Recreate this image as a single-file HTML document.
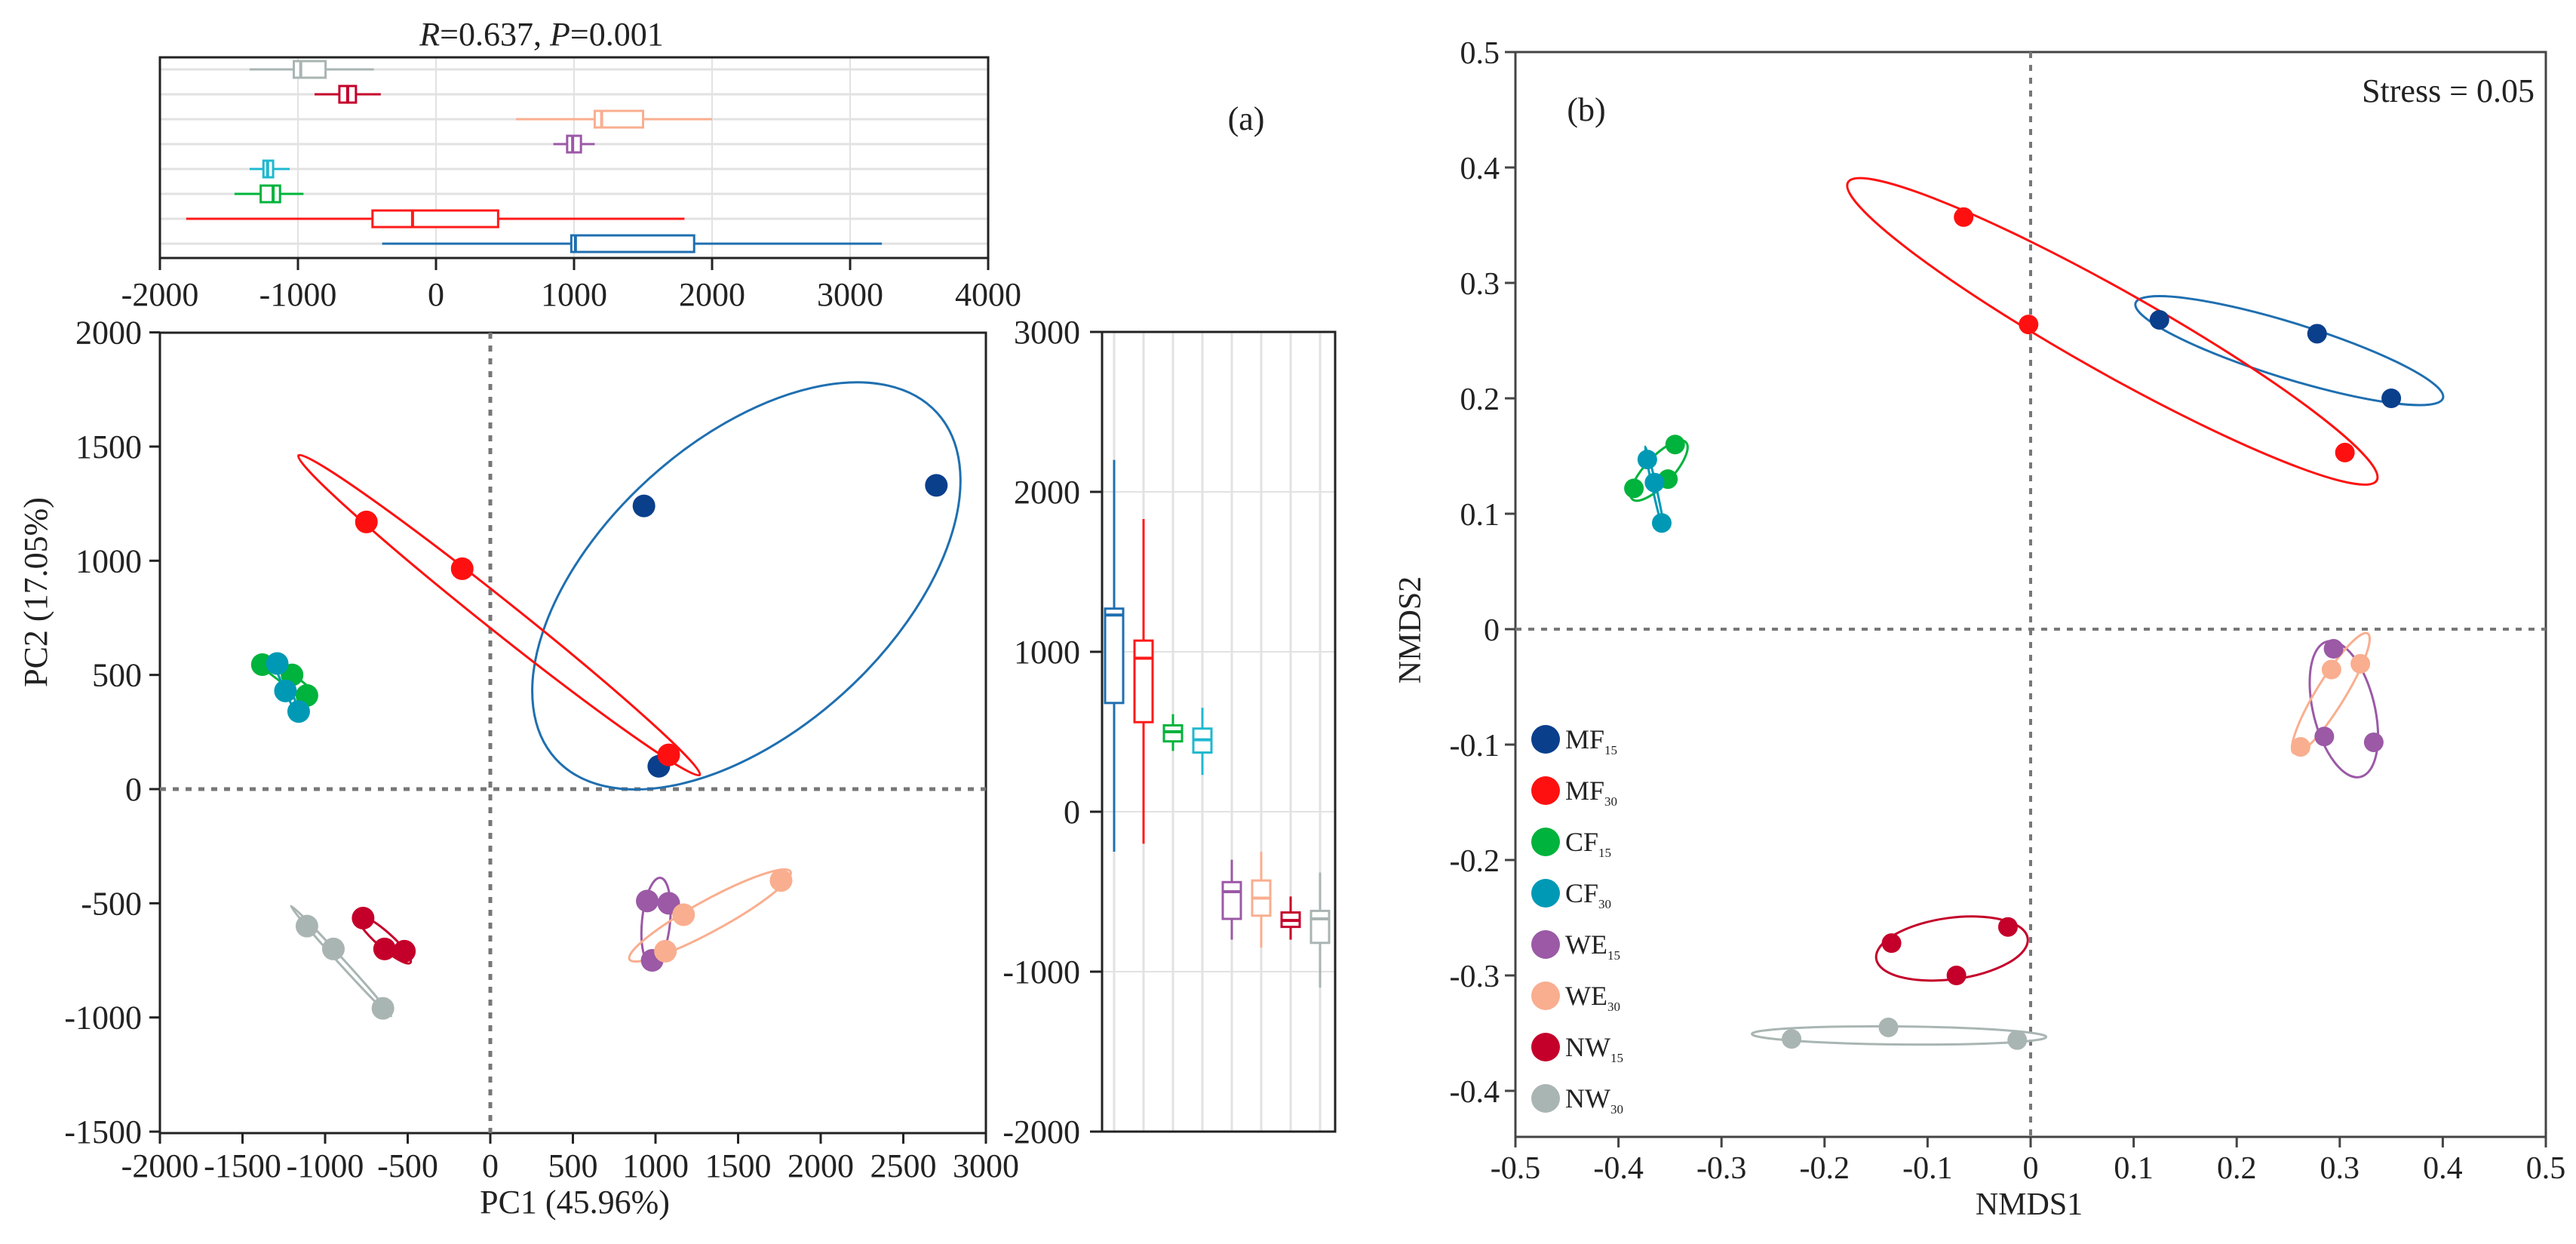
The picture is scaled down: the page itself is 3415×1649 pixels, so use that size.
<!DOCTYPE html>
<html><head><meta charset="utf-8"><style>
html,body{margin:0;padding:0;background:#fff}
svg{display:block;font-family:"Liberation Serif",serif}
</style></head><body>
<svg id="fig" width="3415" height="1649" viewBox="0 0 3415 1649" xmlns="http://www.w3.org/2000/svg"></svg>
<script>
const groups=['MF15','MF30','CF15','CF30','WE15','WE30','NW15','NW30'];
const pointColors=['#0a3f8c','#ff1010','#00b33c','#0099b5','#9b59a6','#f9ae8f','#c4002a','#a9b5b3'];
const lineColors=['#1f6fb0','#ff1010','#00b33c','#0099b5','#9b59a6','#f9ae8f','#c4002a','#a9b5b3'];
const boxColors=['#1f6fb0','#ff1a1a','#00b33c','#1fb8d0','#9b59a6','#f9ae8f','#c4002a','#a9b5b3'];
// PCA scores
const pcaX=[[930,2700,1020],[-750,-170,1080],[-1380,-1200,-1110],[-1290,-1240,-1160],[950,1080,980],[1760,1170,1060],[-770,-640,-520],[-1110,-950,-650]];
const pcaY=[[1240,1330,100],[1170,965,150],[545,500,410],[550,430,340],[-490,-500,-750],[-400,-550,-710],[-565,-700,-710],[-600,-700,-960]];
// NMDS scores
const nmdsX=[[0.125,0.278,0.35],[-0.065,-0.002,0.305],[-0.385,-0.345,-0.352],[-0.372,-0.365,-0.358],[0.294,0.285,0.333],[0.262,0.292,0.32],[-0.135,-0.072,-0.022],[-0.232,-0.138,-0.013]];
const nmdsY=[[0.268,0.256,0.2],[0.357,0.264,0.153],[0.122,0.16,0.13],[0.147,0.127,0.092],[-0.017,-0.093,-0.098],[-0.102,-0.035,-0.03],[-0.272,-0.3,-0.258],[-0.355,-0.345,-0.356]];
// PC1 boxplot stats
const topMin=[-390,-1810,-1460,-1350,850,580,-880,-1350];
const topQ1=[980,-460,-1270,-1250,950,1150,-700,-1030];
const topMed=[1010,-170,-1180,-1220,990,1200,-640,-980];
const topQ3=[1870,450,-1130,-1180,1050,1500,-580,-800];
const topMax=[3230,1800,-960,-1060,1150,2000,-400,-450];
// PC2 boxplot stats
const rMin=[-250,-200,380,230,-800,-850,-800,-1100];
const rQ1=[680,560,440,370,-670,-650,-720,-820];
const rMed=[1230,960,500,450,-500,-540,-680,-670];
const rQ3=[1270,1070,540,520,-440,-430,-630,-620];
const rMax=[2200,1830,610,650,-300,-250,-530,-380];
const pcaXTicks=[-2000,-1500,-1000,-500,0,500,1000,1500,2000,2500,3000];
const pcaYTicks=[-1500,-1000,-500,0,500,1000,1500,2000];
const topTicks=[-2000,-1000,0,1000,2000,3000,4000];
const rTicks=[-2000,-1000,0,1000,2000,3000];
const nTicks=[-0.5,-0.4,-0.3,-0.2,-0.1,0,0.1,0.2,0.3,0.4,0.5];
const nTickLabels=['-0.5','-0.4','-0.3','-0.2','-0.1','0','0.1','0.2','0.3','0.4','0.5'];

const svg=document.getElementById('fig');
const NS='http://www.w3.org/2000/svg';
function mk(tag,at,parent){const e=document.createElementNS(NS,tag);for(const k in at)e.setAttribute(k,at[k]);(parent||svg).appendChild(e);return e;}
function txt(s,x,y,size,anchor,parent){const t=mk('text',{x:x,y:y,'font-size':size,'text-anchor':anchor||'middle',fill:'#222'},parent);t.textContent=s;return t;}

// scales
const ax=v=>650+v*0.219, ay=v=>1046-v*0.3027;
const tx=v=>578+v*0.183;
const ry=v=>652-(v-2000)*0.212;
const nx=v=>2009+(v+0.5)*1366, ny=v=>834-v*1530;

function ellipse(xs,ys,k,color,g,name){
  const n=xs.length;let mx=0,my=0;for(let i=0;i<n;i++){mx+=xs[i];my+=ys[i];}mx/=n;my/=n;
  let a=0,b=0,c=0;for(let i=0;i<n;i++){const dx=xs[i]-mx,dy=ys[i]-my;a+=dx*dx;b+=dx*dy;c+=dy*dy;}
  a/=(n-1);b/=(n-1);c/=(n-1);
  const m=(a+c)/2,d=Math.sqrt(((a-c)/2)**2+b*b);
  const l1=m+d,l2=Math.max(m-d,4);
  const ang=0.5*Math.atan2(2*b,a-c)*180/Math.PI;
  const e=mk('ellipse',{cx:mx,cy:my,rx:k*Math.sqrt(l1),ry:k*Math.sqrt(l2),transform:`rotate(${ang} ${mx} ${my})`,fill:'none',stroke:color,'stroke-width':3},g);
  
  
}

// ================= Panel a: main scatter =================
const gA=mk('g',{});


let r=mk('rect',{x:212,y:441,width:1095,height:1061,fill:'none',stroke:'#222','stroke-width':3},gA);


let l=mk('line',{x1:ax(0),y1:441,x2:ax(0),y2:1502,stroke:'#777','stroke-width':5,'stroke-dasharray':'8 9'},gA);


l=mk('line',{x1:212,y1:ay(0),x2:1307,y2:ay(0),stroke:'#777','stroke-width':5,'stroke-dasharray':'8 9'},gA);


pcaXTicks.forEach(v=>{mk('line',{x1:ax(v),y1:1502,x2:ax(v),y2:1516,stroke:'#222','stroke-width':3},gA);
  const t=txt(String(v),ax(v),1560,44,'middle',gA);
  
  });
pcaYTicks.forEach(v=>{mk('line',{x1:198,y1:ay(v),x2:212,y2:ay(v),stroke:'#222','stroke-width':3},gA);
  const t=txt(String(v),188,ay(v)+15,44,'end',gA);
  
  });
let t=txt('PC1 (45.96%)',762,1608,44,'middle',gA);


t=mk('text',{x:0,y:0,'font-size':44,'text-anchor':'middle',fill:'#222',transform:'translate(62,785) rotate(-90)'},gA);t.textContent='PC2 (17.05%)';


groups.forEach((g,i)=>{
  ellipse(pcaX[i].map(ax),pcaY[i].map(ay),1.3,lineColors[i],gA,'pca-ellipse-'+g.toLowerCase());
});
groups.forEach((g,i)=>{
  pcaX[i].forEach((v,j)=>{const c=mk('circle',{cx:ax(v),cy:ay(pcaY[i][j]),r:15,fill:pointColors[i]},gA);
    
    });
});

// ================= Top boxplot (PC1) =================
const gT=mk('g',{});


const rowY=i=>323-i*33;
topTicks.slice(1,6).forEach(v=>mk('line',{x1:tx(v),y1:76,x2:tx(v),y2:342,stroke:'#e2e2e2','stroke-width':2},gT));
groups.forEach((g,i)=>mk('line',{x1:212,y1:rowY(i),x2:1310,y2:rowY(i),stroke:'#e2e2e2','stroke-width':3},gT));
r=mk('rect',{x:212,y:76,width:1098,height:266,fill:'none',stroke:'#222','stroke-width':3},gT);


topTicks.forEach(v=>{mk('line',{x1:tx(v),y1:342,x2:tx(v),y2:358,stroke:'#222','stroke-width':3},gT);
  const t=txt(String(v),tx(v),405,44,'middle',gT);
  
  });
groups.forEach((g,i)=>{
  const y=rowY(i),c=boxColors[i],h=11;
  const bg=mk('g',{stroke:c,'stroke-width':3,fill:'none'},gT);
  
  
  mk('line',{x1:tx(topMin[i]),y1:y,x2:tx(topQ1[i]),y2:y},bg);
  mk('line',{x1:tx(topQ3[i]),y1:y,x2:tx(topMax[i]),y2:y},bg);
  mk('rect',{x:tx(topQ1[i]),y:y-h,width:tx(topQ3[i])-tx(topQ1[i]),height:2*h,fill:'#fff'},bg);
  mk('line',{x1:tx(topMed[i]),y1:y-h,x2:tx(topMed[i]),y2:y+h,'stroke-width':4},bg);
});
t=mk('text',{x:718,y:60,'font-size':44,'text-anchor':'middle',fill:'#222'},gT);
t.innerHTML='<tspan font-style="italic">R</tspan>=0.637, <tspan font-style="italic">P</tspan>=0.001';


t=txt('(a)',1652,172,44,'middle');



// ================= Right boxplot (PC2) =================
const gR=mk('g',{});


const colX=i=>1477+i*39;
groups.forEach((g,i)=>mk('line',{x1:colX(i),y1:440,x2:colX(i),y2:1500,stroke:'#e2e2e2','stroke-width':3},gR));
rTicks.slice(1,5).forEach(v=>mk('line',{x1:1461,y1:ry(v),x2:1770,y2:ry(v),stroke:'#e2e2e2','stroke-width':2},gR));
r=mk('rect',{x:1461,y:440,width:309,height:1060,fill:'none',stroke:'#222','stroke-width':3},gR);


rTicks.forEach(v=>{mk('line',{x1:1445,y1:ry(v),x2:1461,y2:ry(v),stroke:'#222','stroke-width':3},gR);
  const t=txt(String(v),1432,ry(v)+15,44,'end',gR);
  
  });
groups.forEach((g,i)=>{
  const x=colX(i),c=boxColors[i],w=12;
  const bg=mk('g',{stroke:c,'stroke-width':3,fill:'none'},gR);
  
  
  mk('line',{x1:x,y1:ry(rMin[i]),x2:x,y2:ry(rQ1[i])},bg);
  mk('line',{x1:x,y1:ry(rQ3[i]),x2:x,y2:ry(rMax[i])},bg);
  mk('rect',{x:x-w,y:ry(rQ3[i]),width:2*w,height:ry(rQ1[i])-ry(rQ3[i]),fill:'#fff'},bg);
  mk('line',{x1:x-w,y1:ry(rMed[i]),x2:x+w,y2:ry(rMed[i]),'stroke-width':4},bg);
});

// ================= Panel b: NMDS =================
const gB=mk('g',{});


r=mk('rect',{x:2009,y:69,width:1366,height:1438,fill:'none',stroke:'#444','stroke-width':3},gB);


l=mk('line',{x1:nx(0),y1:69,x2:nx(0),y2:1507,stroke:'#777','stroke-width':4,'stroke-dasharray':'8 9'},gB);


l=mk('line',{x1:2009,y1:ny(0),x2:3375,y2:ny(0),stroke:'#777','stroke-width':4,'stroke-dasharray':'8 9'},gB);


nTicks.forEach((v,i)=>{mk('line',{x1:nx(v),y1:1507,x2:nx(v),y2:1521,stroke:'#444','stroke-width':3},gB);
  const t=txt(nTickLabels[i],nx(v),1562,42,'middle',gB);
  
  });
nTicks.slice(1).forEach((v,i)=>{mk('line',{x1:1995,y1:ny(v),x2:2009,y2:ny(v),stroke:'#444','stroke-width':3},gB);
  const t=txt(nTickLabels[i+1],1988,ny(v)+15,42,'end',gB);
  
  });
t=txt('NMDS1',2690,1610,42,'middle',gB);


t=mk('text',{x:0,y:0,'font-size':42,'text-anchor':'middle',fill:'#222',transform:'translate(1883,835) rotate(-90)'},gB);t.textContent='NMDS2';


t=txt('(b)',2103,160,44,'middle',gB);


t=txt('Stress = 0.05',3360,135,44,'end',gB);


groups.forEach((g,i)=>{
  ellipse(nmdsX[i].map(nx),nmdsY[i].map(ny),1.3,lineColors[i],gB,'nmds-ellipse-'+g.toLowerCase());
});
groups.forEach((g,i)=>{
  nmdsX[i].forEach((v,j)=>{const c=mk('circle',{cx:nx(v),cy:ny(nmdsY[i][j]),r:13,fill:pointColors[i]},gB);
    
    });
});
// legend
const gL=mk('g',{});


groups.forEach((g,i)=>{
  const y=980+i*68;
  const eg=mk('g',{},gL);
  
  
  mk('circle',{cx:2049,cy:y,r:19,fill:pointColors[i]},eg);
  const tt=mk('text',{x:2075,y:y+12,'font-size':36,fill:'#222'},eg);
  tt.innerHTML=g.slice(0,2)+'<tspan font-size="17" dy="8">'+g.slice(2)+'</tspan>';
});
</script>
</body></html>
